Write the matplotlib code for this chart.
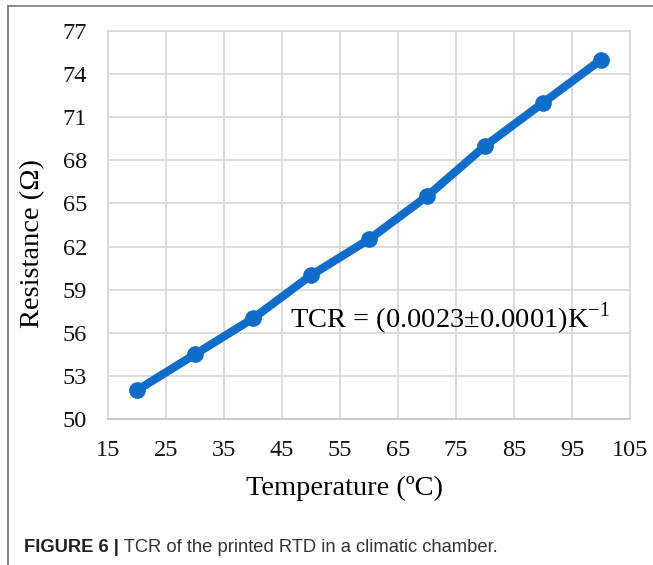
import numpy as np
import matplotlib.pyplot as plt
from matplotlib.lines import Line2D

# дані з графіка
temperature = [20, 30, 40, 50, 60, 70, 80, 90, 100]
resistance = [52, 54.5, 57, 60, 62.5, 65.5, 69, 72, 75]
x_ticks = [15, 25, 35, 45, 55, 65, 75, 85, 95, 105]
y_ticks = [50, 53, 56, 59, 62, 65, 68, 71, 74, 77]

plt.rcParams['font.family'] = 'Liberation Serif'
plt.rcParams['mathtext.fontset'] = 'custom'
plt.rcParams['mathtext.rm'] = 'Liberation Serif'

fig = plt.figure(figsize=(6.53, 5.65), dpi=100)
ax = fig.add_axes([0.1654, 0.2584, 0.7994, 0.6867])

grid_c = '#d9d9d9'
ax.plot(temperature, resistance, color='#0f6cc8', lw=6, marker='o', ms=11,
        solid_capstyle='round', zorder=3)

ax.set_xlim(15, 105)
ax.set_ylim(50, 77)
ax.set_xticks(x_ticks)
ax.set_yticks(y_ticks)
ax.grid(True, color=grid_c, lw=1.3)
ax.set_axisbelow(True)
for s in ax.spines.values():
    s.set_color(grid_c)
    s.set_linewidth(1.3)
ax.spines['bottom'].set_color('#c8c8c8')
ax.tick_params(length=0, labelsize=17.5, colors='#111111')
ax.tick_params(axis='x', pad=15)
ax.tick_params(axis='y', pad=15)

ax.set_xlabel('Temperature (ºC)', fontsize=20.5, va='center')
ax.xaxis.set_label_coords(0.454, -0.178)
ax.set_ylabel('Resistance (Ω)', fontsize=20.5, va='center')
ax.yaxis.set_label_coords(-0.145, 0.451)

ax.text(46.4, 57.0, 'TCR = (0.0023±0.0001)K$^{\\mathrm{-1}}$', fontsize=20.5,
        ha='left', va='center')

# рамка зверху і зліва
fig.add_artist(Line2D([8 / 653, 1], [1 - 6 / 565, 1 - 6 / 565], color='#777777', lw=1.2))
fig.add_artist(Line2D([8 / 653, 8 / 653], [0, 1 - 6 / 565], color='#777777', lw=1.2))

# підпис
t1 = fig.text(24 / 653, 1 - 547 / 565, 'FIGURE 6 |', fontsize=13.2, fontweight='bold',
              family='Liberation Sans', va='center', color='#222222')
ax.annotate(' TCR of the printed RTD in a climatic chamber.', xy=(1, 0.5), xycoords=t1,
            va='center', ha='left', fontsize=13.2, family='Liberation Sans',
            color='#333333', annotation_clip=False)

plt.savefig('out.png', dpi=100)
